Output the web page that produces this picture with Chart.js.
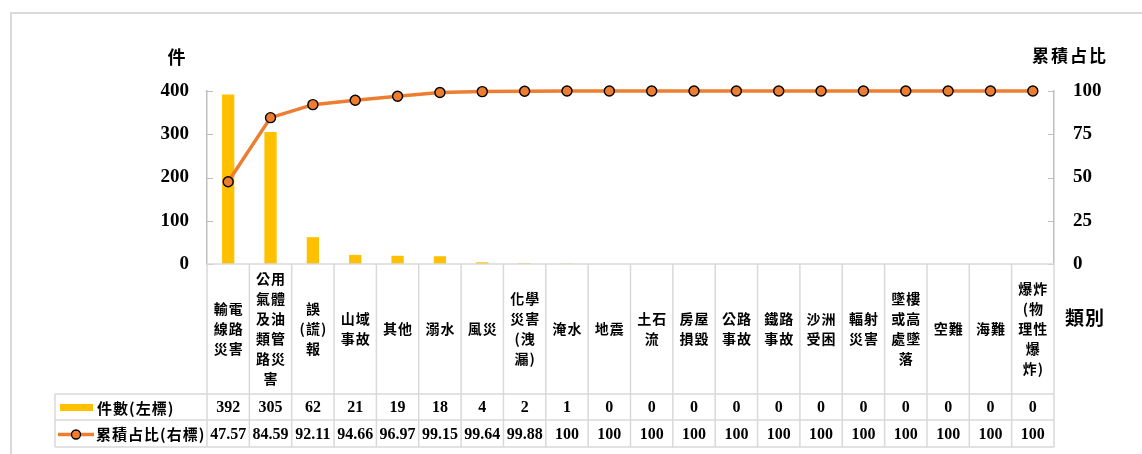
<!DOCTYPE html>
<html>
<head>
<meta charset="utf-8">
<script src="https://cdn.jsdelivr.net/npm/chart.js@4.4.1/dist/chart.umd.min.js"></script>
<style>
  html, body { margin: 0; padding: 0; background: #fff; }
</style>
</head>
<body>
<canvas id="mainChart" width="1142" height="454"></canvas>
<script>
// 類別（每格內換行）
const categories = [
    ['輸電', '線路', '災害'],
    ['公用', '氣體', '及油', '類管', '路災', '害'],
    ['誤', '(謊)', '報'],
    ['山域', '事故'],
    ['其他'],
    ['溺水'],
    ['風災'],
    ['化學', '災害', '(洩', '漏)'],
    ['淹水'],
    ['地震'],
    ['土石', '流'],
    ['房屋', '損毀'],
    ['公路', '事故'],
    ['鐵路', '事故'],
    ['沙洲', '受困'],
    ['輻射', '災害'],
    ['墜樓', '或高', '處墜', '落'],
    ['空難'],
    ['海難'],
    ['爆炸', '(物', '理性', '爆', '炸)']
];
const counts = [392, 305, 62, 21, 19, 18, 4, 2, 1, 0, 0, 0, 0, 0, 0, 0, 0, 0, 0, 0];
const cumShare = [47.57, 84.59, 92.11, 94.66, 96.97, 99.15, 99.64, 99.88, 100, 100, 100, 100, 100, 100, 100, 100, 100, 100, 100, 100];
const cumLabels = ['47.57', '84.59', '92.11', '94.66', '96.97', '99.15', '99.64', '99.88', '100', '100', '100', '100', '100', '100', '100', '100', '100', '100', '100', '100'];
const leftTicks = [0, 100, 200, 300, 400];
const rightTicks = [0, 25, 50, 75, 100];

const barColor = '#FFC000';
const lineColor = '#ED7D31';
const gridColor = '#d9d9d9';
const numFont = 'bold 16px "Liberation Serif"';
const cjkFamily = '"Noto Sans CJK TC"';

// 表格列的位置
const headBottom = 394;
const row1Bottom = 420;
const row2Bottom = 447;
const legendLeft = 55;

const tablePlugin = {
    id: 'tablePlugin',
    afterDraw(chart) {
        const ctx = chart.ctx;
        const ca = chart.chartArea;
        const xs = chart.scales.x;
        const yL = chart.scales.yLeft;
        const yR = chart.scales.yRight;
        const colW = (ca.right - ca.left) / categories.length;

        ctx.save();

        // 外框
        ctx.strokeStyle = gridColor;
        ctx.lineWidth = 2;
        ctx.beginPath();
        ctx.moveTo(11, 454);
        ctx.lineTo(11, 13);
        ctx.lineTo(1142, 13);
        ctx.stroke();

        // 內側刻度
        ctx.strokeStyle = '#bfbfbf';
        ctx.lineWidth = 1;
        ctx.beginPath();
        leftTicks.forEach(v => {
            const y = Math.round(yL.getPixelForValue(v)) + 0.5;
            ctx.moveTo(ca.left, y);
            ctx.lineTo(ca.left + 6, y);
        });
        rightTicks.forEach(v => {
            const y = Math.round(yR.getPixelForValue(v)) + 0.5;
            ctx.moveTo(ca.right, y);
            ctx.lineTo(ca.right - 6, y);
        });
        ctx.stroke();

        // 表格線
        ctx.strokeStyle = gridColor;
        ctx.lineWidth = 1.5;
        ctx.beginPath();
        ctx.moveTo(ca.left, ca.bottom);
        ctx.lineTo(ca.right, ca.bottom);
        [headBottom, row1Bottom, row2Bottom].forEach(y => {
            ctx.moveTo(legendLeft, y);
            ctx.lineTo(ca.right, y);
        });
        for (let i = 0; i <= categories.length; i++) {
            const x = ca.left + i * colW;
            ctx.moveTo(x, ca.bottom);
            ctx.lineTo(x, row2Bottom);
        }
        ctx.moveTo(legendLeft, headBottom);
        ctx.lineTo(legendLeft, row2Bottom);
        ctx.stroke();

        // 類別文字
        ctx.fillStyle = '#000';
        ctx.textAlign = 'center';
        ctx.textBaseline = 'middle';
        ctx.font = 'bold 14px ' + cjkFamily;
        ctx.letterSpacing = '1px';
        const headMid = (ca.bottom + headBottom) / 2;
        const lh = 20;
        categories.forEach((lines, i) => {
            const cx = xs.getPixelForValue(i) + 0.5;
            const y0 = headMid - (lines.length - 1) * lh / 2;
            lines.forEach((t, j) => ctx.fillText(t, cx, y0 + j * lh));
        });
        ctx.letterSpacing = '0px';

        // 數值
        ctx.font = numFont;
        const r1 = (headBottom + row1Bottom) / 2 + 1;
        const r2 = (row1Bottom + row2Bottom) / 2 + 1;
        counts.forEach((v, i) => {
            const cx = xs.getPixelForValue(i);
            ctx.fillText(String(v), cx, r1);
            ctx.fillText(cumLabels[i], cx, r2);
        });

        // 圖例
        ctx.fillStyle = barColor;
        ctx.fillRect(60, r1 - 4, 33, 7);
        ctx.strokeStyle = lineColor;
        ctx.lineWidth = 3.5;
        ctx.beginPath();
        ctx.moveTo(58, r2);
        ctx.lineTo(94, r2);
        ctx.stroke();
        ctx.beginPath();
        ctx.arc(76, r2, 4.5, 0, Math.PI * 2);
        ctx.fillStyle = lineColor;
        ctx.fill();
        ctx.strokeStyle = '#000';
        ctx.lineWidth = 1.3;
        ctx.stroke();

        ctx.fillStyle = '#000';
        ctx.textAlign = 'left';
        ctx.font = 'bold 15px ' + cjkFamily;
        ctx.letterSpacing = '1px';
        ctx.fillText('件數(左標)', 97, r1);
        ctx.fillText('累積占比(右標)', 96, r2);

        // 軸標題
        ctx.textAlign = 'center';
        ctx.font = 'bold 18px ' + cjkFamily;
        ctx.fillText('件', 177, 57);
        ctx.font = 'bold 17px ' + cjkFamily;
        ctx.letterSpacing = '2px';
        ctx.fillText('累積占比', 1070, 56);
        ctx.font = 'bold 19px ' + cjkFamily;
        ctx.letterSpacing = '1px';
        ctx.fillText('類別', 1085, 318);

        ctx.restore();
    }
};

const ctx = document.getElementById('mainChart').getContext('2d');

new Chart(ctx, {
    type: 'bar',
    data: {
        labels: categories.map(c => c.join('')),
        datasets: [
            {
                type: 'line',
                label: '累積占比(右標)',
                data: cumShare,
                yAxisID: 'yRight',
                borderColor: lineColor,
                borderWidth: 3.5,
                tension: 0,
                pointRadius: 5,
                pointBackgroundColor: lineColor,
                pointBorderColor: '#000',
                pointBorderWidth: 1.4,
                clip: false,
                order: 0
            },
            {
                type: 'bar',
                label: '件數(左標)',
                data: counts,
                yAxisID: 'yLeft',
                backgroundColor: barColor,
                categoryPercentage: 1,
                barPercentage: 0.29,
                order: 1
            }
        ]
    },
    options: {
        responsive: false,
        animation: false,
        devicePixelRatio: 1,
        layout: { padding: { top: 91, right: 0, bottom: 190, left: 0 } },
        plugins: {
            legend: { display: false },
            tooltip: { enabled: false }
        },
        scales: {
            x: {
                display: false,
                offset: true
            },
            yLeft: {
                position: 'left',
                min: 0,
                max: 400,
                afterFit: s => { s.width = 207; },
                afterBuildTicks: s => { s.ticks = leftTicks.map(v => ({ value: v })); },
                grid: { display: false, drawTicks: false, tickLength: 0 },
                border: { display: true, color: '#bfbfbf', width: 1.5 },
                ticks: {
                    padding: 18,
                    color: '#000',
                    font: { family: 'Liberation Serif', size: 19, weight: 'bold' }
                }
            },
            yRight: {
                position: 'right',
                min: 0,
                max: 100,
                afterFit: s => { s.width = 88; },
                afterBuildTicks: s => { s.ticks = rightTicks.map(v => ({ value: v })); },
                grid: { display: false, drawTicks: false, tickLength: 0 },
                border: { display: true, color: '#bfbfbf', width: 1.5 },
                ticks: {
                    padding: 19,
                    color: '#000',
                    font: { family: 'Liberation Serif', size: 19, weight: 'bold' }
                }
            }
        }
    },
    plugins: [tablePlugin]
});
</script>
</body>
</html>
